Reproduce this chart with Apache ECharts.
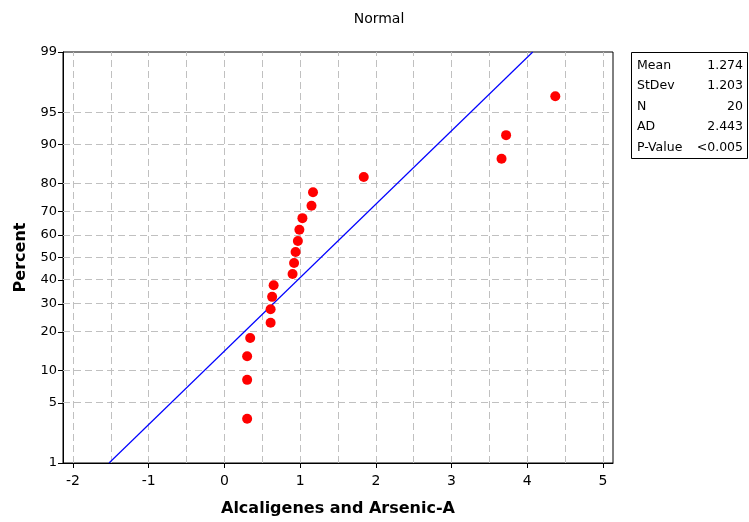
<!DOCTYPE html>
<html><head><meta charset="utf-8">
<script src="https://cdn.jsdelivr.net/npm/echarts@6/dist/echarts.min.js"></script>
<style>html,body{margin:0;padding:0;background:#fff}#c{width:749px;height:522px}</style>
</head><body><div id="c"></div>
<script>
// ---- data ----
const dataX = [0.30, 0.30, 0.30, 0.34, 0.61, 0.61, 0.63, 0.65, 0.90, 0.92, 0.94, 0.97, 0.99, 1.03, 1.15, 1.17, 1.84, 3.66, 3.72, 4.37];
const dataPct = [3.4, 8.3, 13.2, 18.1, 23.0, 27.9, 32.8, 37.7, 42.6, 47.5, 52.5, 57.4, 62.3, 67.2, 72.1, 77.0, 81.9, 86.8, 91.7, 96.6];
const fitX = [-1.524, 4.072];
const fitPct = [1, 99];
const yTickPct = [1, 5, 10, 20, 30, 40, 50, 60, 70, 80, 90, 95, 99];
const xTicks = [-2, -1, 0, 1, 2, 3, 4, 5];
const xGrid = [-2, -1.5, -1, -0.5, 0, 0.5, 1, 1.5, 2, 2.5, 3, 3.5, 4, 4.5, 5];
const statNames = ['Mean', 'StDev', 'N', 'AD', 'P-Value'];
const statValues = ['1.274', '1.203', '20', '2.443', '<0.005'];

// probability scale transform (percent -> normal quantile)
function probit(p) {
  const a = [-3.969683028665376e+01, 2.209460984245205e+02, -2.759285104469687e+02, 1.383577518672690e+02, -3.066479806614716e+01, 2.506628277459239e+00];
  const b = [-5.447609879822406e+01, 1.615858368580409e+02, -1.556989798598866e+02, 6.680131188771972e+01, -1.328068155288572e+01];
  const c = [-7.784894002430293e-03, -3.223964580411365e-01, -2.400758277161838e+00, -2.549732539343734e+00, 4.374664141464968e+00, 2.938163982698783e+00];
  const d = [7.784695709041462e-03, 3.224671290700398e-01, 2.445134137142996e+00, 3.754408661907416e+00];
  const pl = 0.02425, ph = 1 - pl;
  let q, r;
  if (p < pl) { q = Math.sqrt(-2 * Math.log(p)); return (((((c[0]*q+c[1])*q+c[2])*q+c[3])*q+c[4])*q+c[5]) / ((((d[0]*q+d[1])*q+d[2])*q+d[3])*q+1); }
  if (p <= ph) { q = p - 0.5; r = q*q; return (((((a[0]*r+a[1])*r+a[2])*r+a[3])*r+a[4])*r+a[5])*q / (((((b[0]*r+b[1])*r+b[2])*r+b[3])*r+b[4])*r+1); }
  q = Math.sqrt(-2 * Math.log(1 - p)); return -(((((c[0]*q+c[1])*q+c[2])*q+c[3])*q+c[4])*q+c[5]) / ((((d[0]*q+d[1])*q+d[2])*q+d[3])*q+1);
}
const z = pct => probit(pct / 100);
const yTickZ = yTickPct.map(z);
const yMin = z(1), yMax = z(99);

const FONT = 'DejaVu Sans';
const chart = echarts.init(document.getElementById('c'), null, {renderer: 'canvas'});

const gridLineStyle = {color: '#c0c0c0', type: [7, 4], width: 1};
const gridMarks = [];
xGrid.forEach(v => gridMarks.push({xAxis: v}));
yTickZ.slice(1, -1).forEach(v => gridMarks.push({yAxis: v}));

const boxLeft = 631, boxTop = 52, rowH = 20.5;
const graphics = [{
  type: 'rect', left: boxLeft, top: boxTop, shape: {width: 116, height: 106},
  style: {fill: '#fff', stroke: '#000', lineWidth: 1}, z: 10
}];
statNames.forEach((n, i) => {
  graphics.push({type: 'text', left: boxLeft + 6, top: boxTop + 7 + i * rowH,
    style: {text: n, font: '12.5px "' + FONT + '"', fill: '#000'}, z: 11});
  graphics.push({type: 'text', right: 749 - (boxLeft + 112), top: boxTop + 7 + i * rowH,
    style: {text: statValues[i], font: '12.5px "' + FONT + '"', fill: '#000', textAlign: 'right'}, z: 11});
});

chart.setOption({
  animation: false,
  backgroundColor: '#fff',
  title: {text: 'Normal', left: 374, top: 7, textAlign: 'center',
    textStyle: {fontFamily: FONT, fontSize: 14, fontWeight: 'normal', color: '#000'}},
  grid: {left: 63, right: 136, top: 52, bottom: 59, show: true, borderColor: '#000', borderWidth: 1, backgroundColor: 'transparent'},
  xAxis: {
    type: 'value', min: -2.132, max: 5.132,
    name: 'Alcaligenes and Arsenic-A', nameLocation: 'middle', nameGap: 38,
    nameTextStyle: {fontFamily: FONT, fontSize: 16, fontWeight: 'bold', color: '#000'},
    axisLine: {show: true, onZero: false, lineStyle: {color: '#000', width: 1}},
    axisTick: {show: true, customValues: xTicks, length: 5, lineStyle: {color: '#000'}},
    axisLabel: {customValues: xTicks, fontFamily: FONT, fontSize: 14, color: '#000', margin: 11},
    splitLine: {show: false}
  },
  yAxis: {
    type: 'value', min: yMin, max: yMax,
    name: 'Percent', nameLocation: 'middle', nameGap: 34, nameRotate: 90,
    nameTextStyle: {fontFamily: FONT, fontSize: 16, fontWeight: 'bold', color: '#000'},
    axisLine: {show: true, onZero: false, lineStyle: {color: '#000', width: 1}},
    axisTick: {show: true, customValues: yTickZ, length: 5, lineStyle: {color: '#000'}},
    axisLabel: {customValues: yTickZ, fontFamily: FONT, fontSize: 13, color: '#000', margin: 6,
      formatter: v => {
        let best = 0;
        yTickZ.forEach((t, i) => { if (Math.abs(t - v) < Math.abs(yTickZ[best] - v)) best = i; });
        return String(yTickPct[best]);
      }},
    splitLine: {show: false}
  },
  series: [
    {type: 'line', data: [], silent: true, z: 1,
      markLine: {silent: true, symbol: ['none', 'none'], label: {show: false}, lineStyle: gridLineStyle,
        emphasis: {disabled: true}, animation: false, data: gridMarks}},
    {type: 'line', data: fitX.map((x, i) => [x, z(fitPct[i])]), showSymbol: false, symbol: 'none',
      lineStyle: {color: '#0000ff', width: 1.2}, z: 5},
    {type: 'scatter', data: dataX.map((x, i) => [x, z(dataPct[i])]), symbol: 'circle', symbolSize: 10,
      itemStyle: {color: '#ff0000', opacity: 1}, z: 6}
  ],
  graphic: graphics
});
</script>
</body></html>
